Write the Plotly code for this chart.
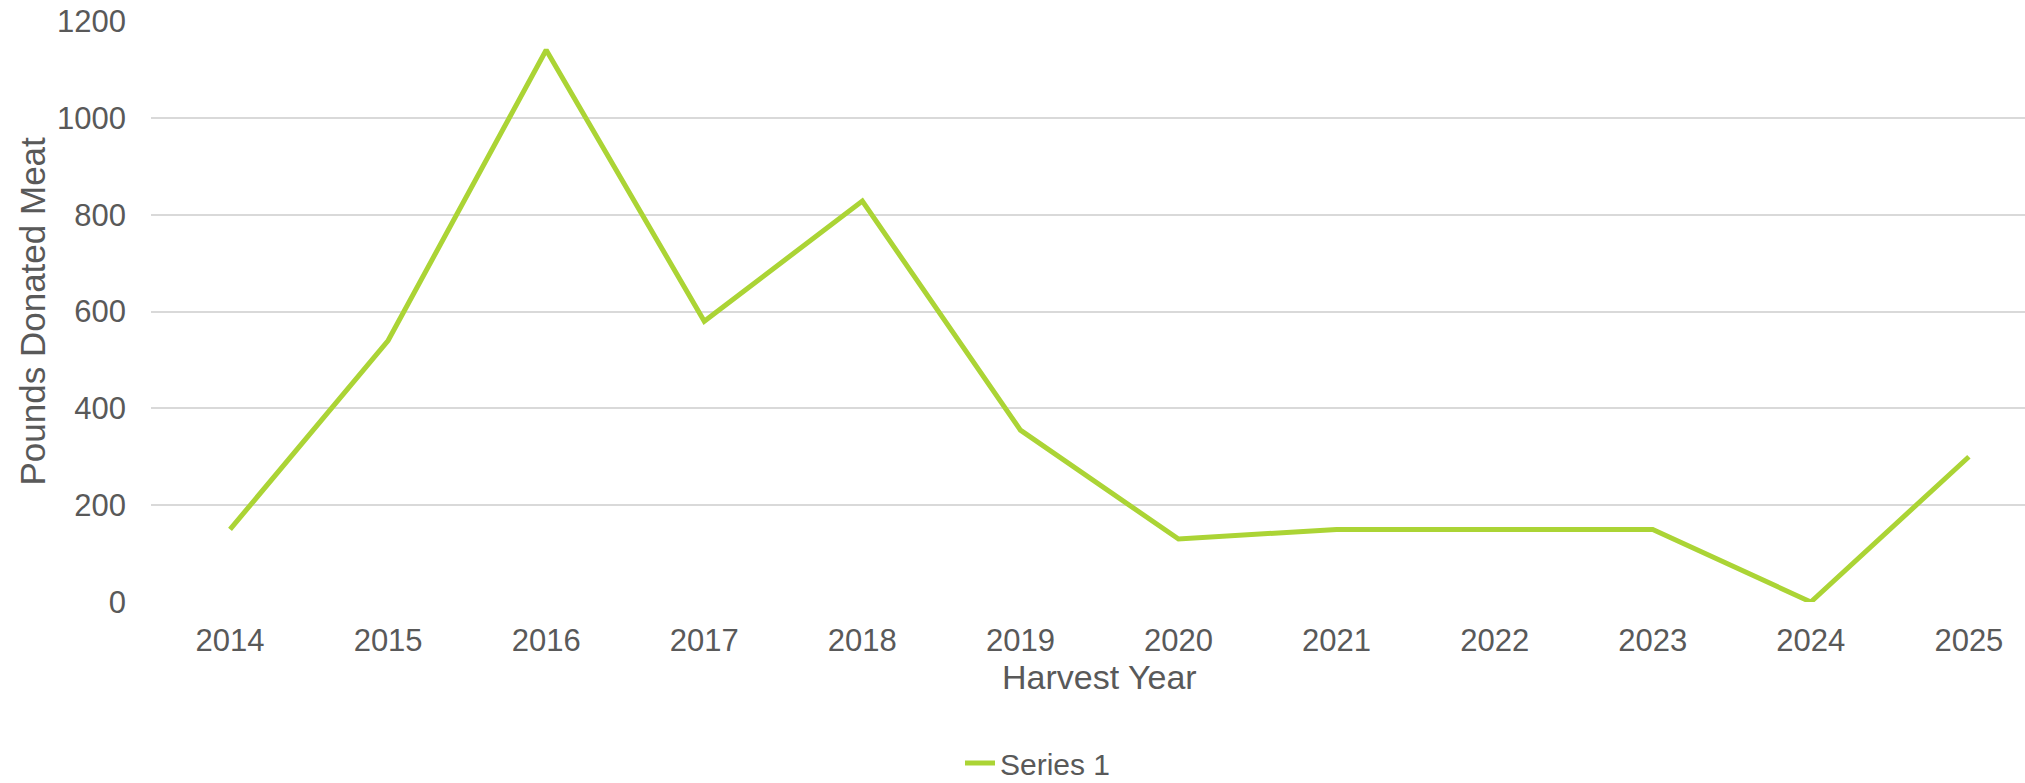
import plotly.graph_objects as go

years = ["2014", "2015", "2016", "2017", "2018", "2019", "2020", "2021", "2022", "2023", "2024", "2025"]
pounds = [150, 540, 1140, 580, 828, 355, 130, 150, 150, 150, 0, 300]
y_ticks = [0, 200, 400, 600, 800, 1000, 1200]

TEXT = "#595959"
GRID = "#D9D9D9"
LINE = "#ABD435"
FONT = "Liberation Sans, Arial, sans-serif"

W, H = 2025, 783
ML, MT, MB = 151, 21, 181
PH = H - MT - MB

fig = go.Figure()
fig.add_trace(go.Scatter(
    x=years, y=pounds, mode="lines", name="Series 1",
    line=dict(color=LINE, width=5),
))

fig.update_layout(
    width=W, height=H,
    margin=dict(l=ML, r=0, t=MT, b=MB, pad=0, autoexpand=False),
    paper_bgcolor="white", plot_bgcolor="white",
    font=dict(family=FONT, color=TEXT, size=31),
    showlegend=True,
    legend=dict(orientation="h", xref="container", x=960 / W, xanchor="left",
                yref="container", y=1 - 763 / H, yanchor="middle",
                font=dict(size=30, color=TEXT), bgcolor="rgba(0,0,0,0)"),
    xaxis=dict(type="category", range=[-0.5, 11.355], showgrid=False, zeroline=False,
               showline=False, ticks="", tickfont=dict(size=31, color=TEXT),
               ticklabelstandoff=17, automargin=False),
    yaxis=dict(range=[0, 1200], tickvals=y_ticks, showgrid=True, gridcolor=GRID,
               gridwidth=1.5, zeroline=False, showline=False, ticks="",
               tickfont=dict(size=31, color=TEXT), ticklabelstandoff=24, automargin=False),
    annotations=[
        dict(text="Harvest Year", xref="x", yref="paper", x=5.5, y=(602 - 677) / PH,
             xanchor="center", yanchor="middle", showarrow=False,
             font=dict(size=34, color=TEXT)),
        dict(text="Pounds Donated Meat", xref="paper", yref="paper", x=(32 - ML) / (W - ML),
             y=0.5, xanchor="center", yanchor="middle", textangle=-90, showarrow=False,
             font=dict(size=35, color=TEXT)),
    ],
)

fig.write_html("out.html")
